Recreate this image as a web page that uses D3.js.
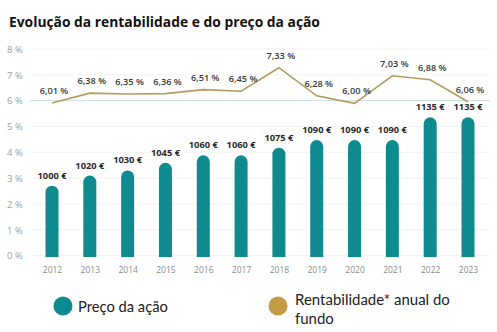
<!DOCTYPE html>
<html>
<head>
<meta charset="utf-8">
<script src="https://cdn.jsdelivr.net/npm/d3@7"></script>
<style>
  html, body { margin: 0; padding: 0; background: #fff; }
  svg { display: block; }
</style>
</head>
<body>
<svg id="chart" width="497" height="332"></svg>
<script>
// Data
const years = ["2012","2013","2014","2015","2016","2017","2018","2019","2020","2021","2022","2023"];
const sharePrice = [1000, 1020, 1030, 1045, 1060, 1060, 1075, 1090, 1090, 1090, 1135, 1135];
const fundReturn = [6.01, 6.38, 6.35, 6.36, 6.51, 6.45, 7.33, 6.28, 6.00, 7.03, 6.88, 6.06];
const pctTicks = [0, 1, 2, 3, 4, 5, 6, 7, 8];
const legendLabels = ["Preço da ação", "Rentabilidade* anual do", "fundo"];

const TEAL = "#0f8a8f";
const GOLD = "#c49b45";
const LINE = "#b89a5e";
const FONT = "'Open Sans', 'Noto Sans', sans-serif";
const LEGEND_FONT = "Lato, 'Noto Sans', sans-serif";

const svg = d3.select("#chart");

// Fit a text element's font size to a target width
function fitWidth(sel, base, target) {
  sel.attr("font-size", base);
  const w = sel.node().getComputedTextLength();
  sel.attr("font-size", base * target / w);
}

// Title
const title = svg.append("text")
  .attr("x", 9).attr("y", 27)
  .attr("font-family", FONT).attr("font-weight", 700)
  .attr("fill", "#111")
  .text("Evolução da rentabilidade e do preço da ação");
fitWidth(title, 14, 311);

// Scales
const x = d3.scalePoint().domain(years).range([52, 468]);
const y = d3.scaleLinear().domain([0, 8]).range([255.5, 49]);
const yBar = d3.scaleLinear().domain([859, 1270]).range([257, 49]);
const yLine = d3.scaleLinear().domain([6, 8]).range([103.3, 49.8]);

// Grid lines
svg.append("g").selectAll("line").data(pctTicks).join("line")
  .attr("x1", 30).attr("x2", 490)
  .attr("y1", d => y(d)).attr("y2", d => y(d))
  .attr("stroke", d => d === 6 ? "#c4e0e0" : "#f3f3f3")
  .attr("stroke-width", 1);

// Left axis labels
const yAxis = d3.axisLeft(y).tickValues(pctTicks).tickSize(0).tickFormat(d => d + " %");
const gy = svg.append("g").attr("transform", "translate(23,0)").call(yAxis);
gy.select(".domain").remove();
gy.selectAll("text")
  .attr("font-family", FONT).attr("font-size", 9.5).attr("fill", "#a0a0a0")
  .attr("text-anchor", "start").attr("x", -16).attr("dy", "0.35em");

// Bottom axis labels
const xAxis = d3.axisBottom(x).tickSize(0);
const gx = svg.append("g").attr("transform", "translate(0,264)").call(xAxis);
gx.select(".domain").remove();
gx.selectAll("text")
  .attr("font-family", FONT).attr("font-size", 8.5).attr("fill", "#8a8a8a");

// Bars with rounded tops
const bw = 13, r = bw / 2;
const barPath = (cx, top, bottom) => {
  const l = cx - r, rt = cx + r;
  return `M${l},${bottom}L${l},${top + r}A${r},${r} 0 0 1 ${rt},${top + r}L${rt},${bottom}Z`;
};
svg.append("g").selectAll("path").data(sharePrice).join("path")
  .attr("d", (d, i) => barPath(x(years[i]), yBar(d), yBar.range()[0]))
  .attr("fill", TEAL);

// Bar value labels
svg.append("g").selectAll("text").data(sharePrice).join("text")
  .attr("x", (d, i) => x(years[i]))
  .attr("y", d => yBar(d) - 7)
  .attr("text-anchor", "middle")
  .attr("font-family", FONT).attr("font-weight", 700)
  .attr("font-size", 9.3).attr("fill", "#2a2a2a")
  .text(d => d + " €");

// Return line
const line = d3.line().x((d, i) => x(years[i])).y(d => yLine(d));
svg.append("path").datum(fundReturn)
  .attr("d", line).attr("fill", "none")
  .attr("stroke", LINE).attr("stroke-width", 1.6);

// Return labels
const fmt = d => d.toFixed(2).replace(".", ",") + " %";
svg.append("g").selectAll("text").data(fundReturn).join("text")
  .attr("x", (d, i) => x(years[i]) + 2)
  .attr("y", d => yLine(d) - 9)
  .attr("text-anchor", "middle")
  .attr("font-family", FONT).attr("font-weight", 600)
  .attr("font-size", 9.2).attr("fill", "#3a3a3a")
  .text(fmt);

// Legend
const lg = svg.append("g").attr("font-family", LEGEND_FONT).attr("fill", "#222");
lg.append("circle").attr("cx", 63).attr("cy", 306).attr("r", 9.5).attr("fill", TEAL);
const l1 = lg.append("text").attr("x", 78).attr("y", 312).text(legendLabels[0]);
fitWidth(l1, 15, 90);
lg.append("circle").attr("cx", 278).attr("cy", 306).attr("r", 9.5).attr("fill", GOLD);
const l2 = lg.append("text").attr("x", 295).attr("y", 304.5).text(legendLabels[1]);
fitWidth(l2, 15, 155);
lg.append("text").attr("x", 295).attr("y", 323.5).attr("font-size", l2.attr("font-size")).text(legendLabels[2]);
</script>
</body>
</html>
